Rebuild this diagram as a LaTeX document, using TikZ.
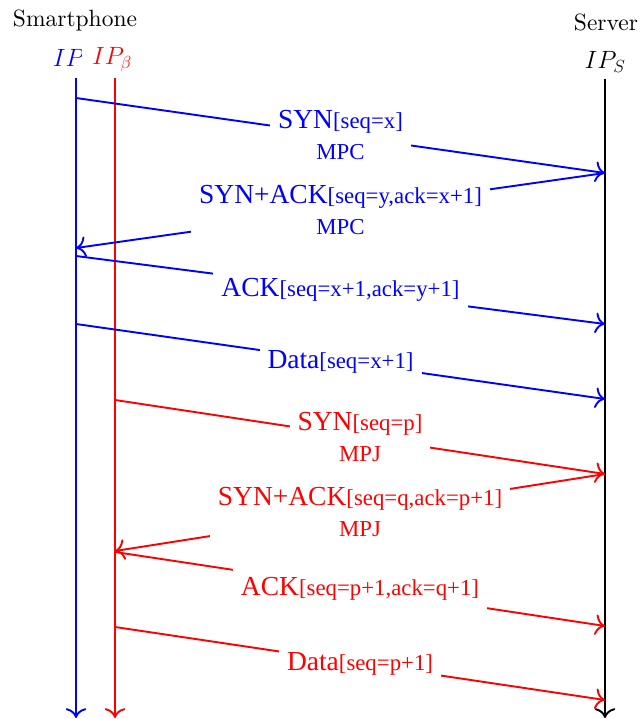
\RequirePackage{fix-cm}
\documentclass[tikz,border=0pt]{standalone}
\usepackage{fontspec}
\usetikzlibrary{arrows.meta}
\newfontfamily\tmsfont{Liberation Serif}
\newfontfamily\lmten{lmroman10-regular.otf}
\newcommand\hdr{\lmten\fontsize{23.5}{28}\selectfont}
\newcommand\bigT{\tmsfont\fontsize{27.5}{31}\selectfont}
\newcommand\smT{\tmsfont\fontsize{22.8}{31}\selectfont}
\tikzset{
  lifeline/.style={line width=1.9pt,-{To[scale=1.7]}},
  msgline/.style={line width=1.9pt,-{To[scale=1.7]}},
  lbl/.style={fill=white,inner sep=8pt,align=center,pos=0.5,font=\smT},
  hdrnode/.style={inner sep=7.8pt,font=\hdr}
}
\begin{document}
\begin{tikzpicture}[x=1pt,y=-1pt]
\useasboundingbox (0,0) rectangle (641,719);
% headers
\node[hdrnode] (sp) at (75,20) {Smartphone};
\node[hdrnode] (sv) at (606,22) {Server};
\node[hdrnode,text=blue] (ipa) at (73,60) {\fontsize{25}{28}\selectfont$IP_\alpha$};
\node[hdrnode,text=red,fill=white,inner sep=10pt] (ipb) at (112,60) {\fontsize{25}{28}\selectfont$IP_\beta$};
\node[hdrnode] (ips) at (605,62) {\fontsize{25}{28}\selectfont$IP_S$};
% lifelines
\coordinate (bt) at (76,78);  \coordinate (bb) at (76,718);
\coordinate (rt) at (115,78); \coordinate (rb) at (115,718);
\coordinate (st) at (605,79); \coordinate (sb) at (605,718);
\draw[lifeline,blue] (bt) -- (bb);
\draw[lifeline,red] (rt) -- (rb);
\draw[lifeline,black] (st) -- (sb);
% message points
\coordinate (b1) at (76,98);   \coordinate (s1) at (605,173);
\coordinate (b2) at (76,248);
\coordinate (b3) at (76,256);  \coordinate (s3) at (605,324);
\coordinate (b4) at (76,324);  \coordinate (s4) at (605,399);
\coordinate (r5) at (115,400); \coordinate (s5) at (605,474);
\coordinate (r6) at (115,551);
\coordinate (r7) at (115,552); \coordinate (s7) at (605,626);
\coordinate (r8) at (115,627); \coordinate (s8) at (605,700);
% blue messages
\draw[msgline,blue] (b1) -- node[lbl,text=blue] (m1) {{\bigT SYN}[seq=x]\\MPC} (s1);
\draw[msgline,blue] (s1) -- node[lbl,text=blue] (m2) {{\bigT SYN+ACK}[seq=y,ack=x+1]\\MPC} (b2);
\draw[msgline,blue] (b3) -- node[lbl,text=blue] (m3) {{\bigT ACK}[seq=x+1,ack=y+1]} (s3);
\draw[msgline,blue] (b4) -- node[lbl,text=blue] (m4) {{\bigT Data}[seq=x+1]} (s4);
% red messages
\draw[msgline,red] (r5) -- node[lbl,text=red] (m5) {{\bigT SYN}[seq=p]\\MPJ} (s5);
\draw[msgline,red] (s5) -- node[lbl,text=red] (m6) {{\bigT SYN+ACK}[seq=q,ack=p+1]\\MPJ} (r6);
\draw[msgline,red] (r7) -- node[lbl,text=red] (m7) {{\bigT ACK}[seq=p+1,ack=q+1]} (s7);
\draw[msgline,red] (r8) -- node[lbl,text=red] (m8) {{\bigT Data}[seq=p+1]} (s8);
\end{tikzpicture}
\end{document}
